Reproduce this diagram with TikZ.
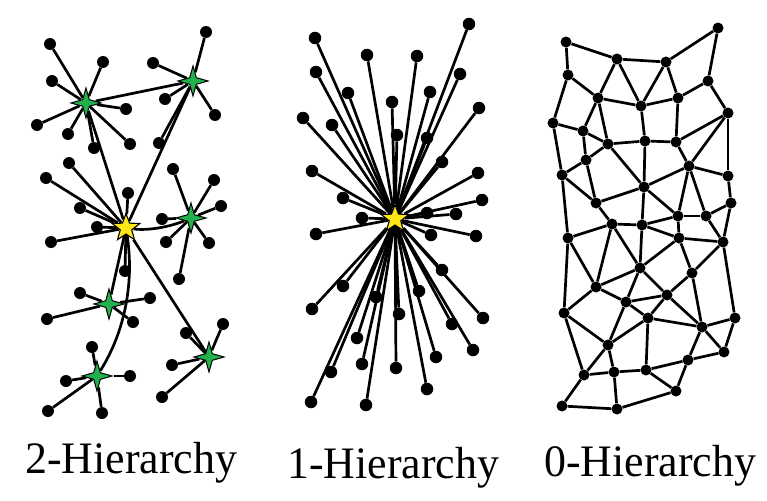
\documentclass[tikz,border=0pt]{standalone}
\usepackage{fontspec}
\setmainfont{Liberation Serif}
\usetikzlibrary{shapes.geometric}
\pgfdeclarelayer{bg}
\pgfsetlayers{bg,main}
\definecolor{starY}{HTML}{FFE617}
\definecolor{starG}{HTML}{22B14C}
\tikzset{
  edge/.style={line width=2.7pt, black},
  ldot/.style={circle, fill=black, inner sep=0pt, minimum size=12pt},
  mdot/.style={circle, fill=black, inner sep=0pt, minimum size=12.5pt},
  ndot/.style={circle, fill=black, inner sep=0pt, minimum size=11pt},
  ystar/.style={star, star points=5, star point ratio=2.4, minimum size=29pt, inner sep=0pt, fill=starY, draw=black, line width=1.1pt},
  gstar/.style={star, star points=4, star point ratio=3.2, minimum size=30pt, inner sep=0pt, fill=starG, draw=black, line width=1pt},
  lbl/.style={anchor=base west, inner sep=0pt, font=\fontsize{45}{50}\selectfont}
}
\begin{document}
\begin{tikzpicture}[x=1pt,y=-1pt]
\useasboundingbox (0,0) rectangle (767,500);
% ---------- left panel: 2-Hierarchy ----------
\node[ystar] (Y) at (126,228) {};
\node[gstar] (A) at (86,103) {};
\node[gstar] (B) at (193,81) {};
\node[gstar] (C) at (191,218) {};
\node[gstar] (D) at (109,304) {};
\node[gstar] (E) at (97,376) {};
\node[gstar] (F) at (209,357) {};
\foreach [count=\i] \p in {(50,44),(103,62),(52,81),(126,109),(37,125),(68,134),(94,148),(130,144)}
  \node[ldot] (a\i) at \p {};
\foreach [count=\i] \p in {(206,32),(153,63),(165,99),(215,115),(159,143)}
  \node[ldot] (b\i) at \p {};
\foreach [count=\i] \p in {(69,163),(46,178),(128,193),(80,208),(97,227),(51,242),(125,271)}
  \node[ldot] (y\i) at \p {};
\foreach [count=\i] \p in {(173,169),(214,180),(221,206),(162,219),(166,242),(209,243),(179,279)}
  \node[ldot] (c\i) at \p {};
\foreach [count=\i] \p in {(80,293),(150,298),(47,319),(133,322)}
  \node[ldot] (d\i) at \p {};
\foreach [count=\i] \p in {(92,347),(66,381),(130,376),(48,411),(102,413)}
  \node[ldot] (e\i) at \p {};
\foreach [count=\i] \p in {(223,324),(186,333),(172,365),(162,397)}
  \node[ldot] (f\i) at \p {};
\begin{pgfonlayer}{bg}
  \foreach \i in {1,...,8} \draw[edge] (A) -- (a\i);
  \foreach \i in {1,...,5} \draw[edge] (B) -- (b\i);
  \foreach \i in {1,...,7} \draw[edge] (Y) -- (y\i);
  \foreach \i in {1,...,7} \draw[edge] (C) -- (c\i);
  \foreach \i in {1,...,4} \draw[edge] (D) -- (d\i);
  \foreach \i in {1,...,5} \draw[edge] (E) -- (e\i);
  \foreach \i in {1,...,4} \draw[edge] (F) -- (f\i);
  \draw[edge] (A) -- (B);
  \draw[edge] (Y) -- (A);
  \draw[edge] (Y) -- (B);
  \draw[edge] (Y) -- (D);
  \draw[edge] (Y) -- (F);
  \draw[edge] (Y) .. controls (150,231) and (172,226) .. (C);
  \draw[edge] (Y) .. controls (134,280) and (126,330) .. (E);
\end{pgfonlayer}
% ---------- middle panel: 1-Hierarchy ----------
\node[ystar] (M) at (395,219) {};
\foreach [count=\i] \p in {(315,38),(469,24),(367,55),(417,56),(316,72),(460,74),(348,93),(430,92),(392,102),(303,118),(479,108),(332,125),(397,135),(427,138),(442,162),(312,171),(478,173),(343,198),(482,200),(456,214),(427,213),(362,218),(316,234),(431,235),(476,236),(442,270),(343,286),(419,291),(312,309),(376,297),(399,314),(483,318),(452,324),(357,338),(436,357),(473,350),(362,364),(396,368),(331,372),(427,389),(311,402),(366,405)}
  \node[mdot] (m\i) at \p {};
\begin{pgfonlayer}{bg}
  \foreach \i in {1,...,42} \draw[edge] (M) -- (m\i);
\end{pgfonlayer}
% ---------- right panel: 0-Hierarchy ----------
\foreach [count=\i] \p in {(566,42),(718,28),(617,59),(666,62),(568,75),(708,81),(598,98),(641,106),(678,98),(553,123),(728,113),(583,131),(608,144),(645,141),(676,142),(586,160),(562,175),(689,166),(728,176),(644,187),(731,203),(596,203),(678,216),(706,216),(612,224),(642,225),(568,238),(679,238),(723,242),(640,268),(692,273),(596,287),(564,313),(626,302),(667,295),(648,318),(735,318),(702,327),(608,345),(724,352),(688,360),(584,375),(614,372),(646,370),(676,391),(562,406),(617,409)}
  \node[ndot] (n\i) at \p {};
\begin{pgfonlayer}{bg}
  \foreach \a/\b in {1/5,1/3,3/4,4/2,2/6,3/7,3/8,4/8,4/9,5/7,5/10,7/8,8/9,9/6,6/11,7/12,7/13,10/12,12/13,12/16,13/16,13/14,14/15,8/14,9/15,15/11,
    10/17,16/17,17/22,16/22,17/27,13/20,14/20,15/18,11/18,11/19,18/19,18/20,18/23,18/24,19/21,21/24,21/29,20/22,20/23,20/26,22/25,23/24,23/26,23/28,24/29,
    25/26,25/27,25/32,25/30,26/28,26/30,27/32,27/33,28/29,28/31,28/30,29/31,30/32,29/37,32/33,32/34,30/34,30/35,31/35,31/38,34/35,34/36,34/39,35/36,35/38,
    37/38,37/40,38/40,38/41,36/38,36/39,36/44,33/39,33/42,39/42,39/43,42/43,42/46,43/44,43/47,44/41,44/45,41/40,41/45,46/47,47/45}
    \draw[edge] (n\a) -- (n\b);
\end{pgfonlayer}
% ---------- labels ----------
\node[lbl] (L2) at (25,473) {\scalebox{0.975}[1]{2-Hierarchy}};
\node[lbl] (L1) at (287,478) {\scalebox{0.975}[1]{1-Hierarchy}};
\node[lbl] (L0) at (544,476) {\scalebox{0.975}[1]{0-Hierarchy}};
\end{tikzpicture}
\end{document}
